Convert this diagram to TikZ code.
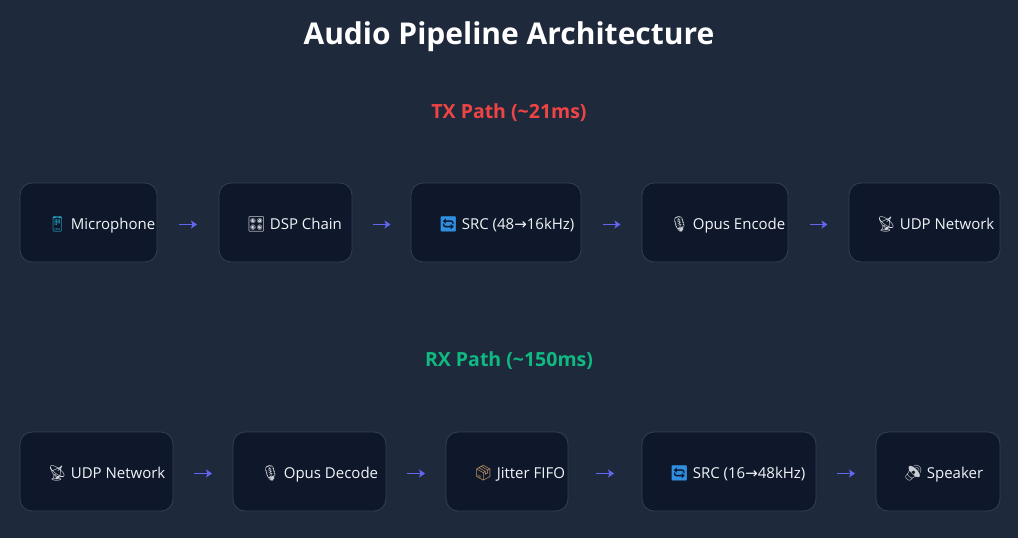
\documentclass[tikz,border=0pt]{standalone}
\usepackage{fontspec}
\setmainfont{Open Sans}
\newfontfamily\emoji{Noto Emoji}
\newfontfamily\sym{DejaVu Sans}
\usepackage{xcolor}
\usetikzlibrary{calc,positioning,arrows.meta}
\definecolor{bg}{HTML}{1E293B}
\definecolor{card}{HTML}{0F172A}
\definecolor{edge}{HTML}{334155}
\definecolor{text}{HTML}{F1F5F9}
\definecolor{txred}{HTML}{EF4444}
\definecolor{rxgreen}{HTML}{10B981}
\definecolor{flow}{HTML}{6366F1}
\definecolor{phone}{HTML}{22A6C8}
\definecolor{knob}{HTML}{D9DDE2}
\definecolor{sync}{HTML}{2E8FE0}
\definecolor{mic}{HTML}{C8CDD2}
\definecolor{crate}{HTML}{D2A36C}
\tikzset{
  stage/.style={draw=edge, fill=card, line width=0.8pt, rounded corners=12pt,
    minimum height=79pt, inner sep=0pt},
  lab/.style={text=text, font=\fontsize{15}{18}\selectfont, anchor=base west, inner sep=0pt},
  head/.style={text=white, font=\bfseries\fontsize{30}{36}\selectfont},
  path/.style={font=\bfseries\fontsize{19.5}{24}\selectfont},
  flowarr/.style={draw=flow, line width=1.7pt, -{Stealth[length=6pt,width=8pt,inset=1.5pt]}},
}

\begin{document}
\begin{tikzpicture}[x=1pt,y=-1pt]
  \useasboundingbox[fill=bg] (0,0) rectangle (1018,538);
  \def\ytx{222.5}
  \def\yrx{471.5}
  \def\pad{28}

  \node[head] (title) at (509,37) {Audio Pipeline Architecture};
  \node[path,text=txred]   (txpath) at (509,113) {TX Path (\textasciitilde21ms)};
  \node[path,text=rxgreen] (rxpath) at (509,361) {RX Path (\textasciitilde150ms)};

  % TX path
  \node[stage, minimum width=137pt] (mic)   at (88.5,\ytx)  {};
  \node[stage, minimum width=133pt] (dsp)   at (285.5,\ytx) {};
  \node[stage, minimum width=170pt] (srcd)  at (496,\ytx)   {};
  \node[stage, minimum width=146pt] (enc)   at (715,\ytx)   {};
  \node[stage, minimum width=151pt] (udptx) at (924.5,\ytx) {};

  \node[lab] (micL)   at ($(mic.west)+(\pad,7)$)   {{\emoji\color{phone}📱}\hspace{4pt}Microphone};
  \node[lab] (dspL)   at ($(dsp.west)+(\pad,7)$)   {{\emoji\color{knob}🎛}\hspace{4pt}DSP Chain};
  \node[lab] (srcdL)  at ($(srcd.west)+(\pad,7)$)  {{\emoji\color{sync}🔄}\hspace{4pt}SRC (48{\sym →}16kHz)};
  \node[lab] (encL)   at ($(enc.west)+(\pad,7)$)   {{\emoji\color{mic}🎙}\hspace{4pt}Opus Encode};
  \node[lab] (udptxL) at ($(udptx.west)+(\pad,7)$) {{\emoji\color{knob}📡}\hspace{4pt}UDP Network};

  % RX path
  \node[stage, minimum width=153pt] (udprx) at (96.5,\yrx)  {};
  \node[stage, minimum width=153pt] (dec)   at (309.5,\yrx) {};
  \node[stage, minimum width=122pt] (fifo)  at (507,\yrx)   {};
  \node[stage, minimum width=174pt] (srcu)  at (729,\yrx)   {};
  \node[stage, minimum width=124pt] (spk)   at (938,\yrx)   {};

  \node[lab] (udprxL) at ($(udprx.west)+(\pad,7)$) {{\emoji\color{knob}📡}\hspace{4pt}UDP Network};
  \node[lab] (decL)   at ($(dec.west)+(\pad,7)$)   {{\emoji\color{mic}🎙}\hspace{4pt}Opus Decode};
  \node[lab] (fifoL)  at ($(fifo.west)+(\pad,7)$)  {{\emoji\color{crate}📦}\hspace{4pt}Jitter FIFO};
  \node[lab] (srcuL)  at ($(srcu.west)+(\pad,7)$)  {{\emoji\color{sync}🔄}\hspace{4pt}SRC (16{\sym →}48kHz)};
  \node[lab] (spkL)   at ($(spk.west)+(\pad,7)$)   {{\emoji\color{mic}🔊}\hspace{4pt}Speaker};

  \foreach \a/\b in {mic/dsp, dsp/srcd, srcd/enc, enc/udptx,
                     udprx/dec, dec/fifo, fifo/srcu, srcu/spk}
    \draw[flowarr] ($(\a.east)!0.5!(\b.west)+(-9,2)$) -- ($(\a.east)!0.5!(\b.west)+(9,2)$);
\end{tikzpicture}
\end{document}
